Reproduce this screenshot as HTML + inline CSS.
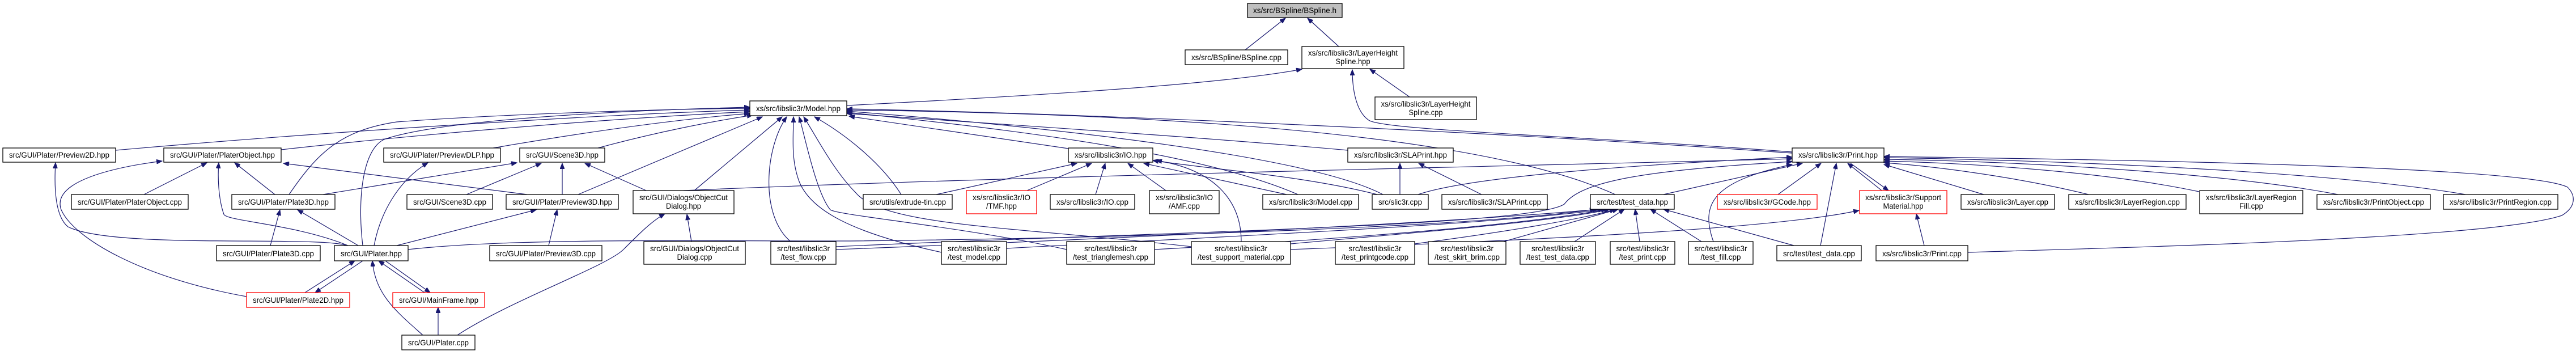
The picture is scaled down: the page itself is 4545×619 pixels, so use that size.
<!DOCTYPE html>
<html><head><meta charset="utf-8"><style>
html,body{margin:0;padding:0;background:#fff}
svg{display:block}
text{font-family:"Liberation Sans",sans-serif;font-size:14px;fill:#000}
.e{fill:none;stroke:#191970;stroke-width:1.2}
.b{fill:#fff;stroke:#000;stroke-width:1.3}
.r{fill:#fff;stroke:#ff0000;stroke-width:1.3}
</style></head><body>
<svg width="4545" height="619" viewBox="0 0 4545 619" xmlns="http://www.w3.org/2000/svg">
<defs><marker id="a" markerUnits="userSpaceOnUse" markerWidth="11" markerHeight="8" refX="10" refY="4" orient="auto"><path d="M0,0 L10,4 L0,8 z" fill="#191970" stroke="#191970"/></marker></defs>
<g class="e" marker-end="url(#a)">
<path d="M2197,88 L2268,32"/>
<path d="M2362,82 L2307,32"/>
<path d="M1494,186 C1800,170 2150,150 2297,122"/>
<path d="M2487,171 L2417,122"/>
<path d="M3162,268 C2800,240 2440,230 2415,212 C2390,195 2386,150 2386,123"/>
<path d="M204,265 C600,230 1100,200 1323,194"/>
<path d="M496,264 C800,230 1150,205 1323,197"/>
<path d="M870,261 C1050,230 1200,210 1323,200"/>
<path d="M1055,261 C1150,235 1250,215 1328,203"/>
<path d="M510,343 C560,270 600,230 700,215 C900,200 1200,192 1323,191"/>
<path d="M640,433 C630,350 640,260 680,245 C800,205 1200,192 1323,189"/>
<path d="M1020,343 L1345,206"/>
<path d="M1225,336 L1380,206"/>
<path d="M1395,426 C1340,380 1350,260 1388,206"/>
<path d="M1661,445 C1500,410 1430,370 1410,320 C1395,280 1400,240 1400,206"/>
<path d="M1882,440 C1700,400 1480,380 1465,370 C1440,340 1420,240 1410,206"/>
<path d="M2102,435 C1800,400 1560,400 1510,340 C1470,300 1440,240 1418,206"/>
<path d="M1590,343 C1550,280 1480,230 1437,206"/>
<path d="M1885,262 L1498,205"/>
<path d="M2378,265 C2100,240 1700,215 1494,200"/>
<path d="M2290,343 C2100,260 1700,220 1494,198"/>
<path d="M2440,343 C2300,270 1800,220 1494,196"/>
<path d="M2850,343 C2600,230 2000,200 1494,194"/>
<path d="M3162,270 C2600,230 1900,200 1494,192"/>
<path d="M1652,343 L1900,288"/>
<path d="M1812,336 L1926,288"/>
<path d="M1933,343 L1950,288"/>
<path d="M2057,336 L1990,288"/>
<path d="M2270,343 L2018,288"/>
<path d="M2430,343 C2300,310 2150,300 2034,283"/>
<path d="M2190,426 C2190,360 2150,300 2040,283"/>
<path d="M2470,343 L2470,288"/>
<path d="M2614,343 L2503,288"/>
<path d="M2502,343 C2600,310 2900,290 3162,277"/>
<path d="M2935,343 L3180,288"/>
<path d="M3137,343 L3213,288"/>
<path d="M3212,433 L3240,288"/>
<path d="M3320,336 L3260,288"/>
<path d="M3265,288 L3332,336"/>
<path d="M3023,426 C3000,360 3020,320 3162,290"/>
<path d="M1206,336 C1800,310 2800,290 3162,280"/>
<path d="M1475,435 C2000,410 2700,400 2760,360 C2790,320 2900,300 3162,285"/>
<path d="M3500,343 L3324,290"/>
<path d="M3685,343 C3550,310 3400,292 3324,287"/>
<path d="M3880,338 C3700,300 3450,287 3324,284"/>
<path d="M4125,343 C3900,300 3500,283 3324,281"/>
<path d="M4350,343 C4100,300 3600,282 3324,278"/>
<path d="M3472,445 C3800,435 4400,420 4520,380 C4545,365 4545,345 4530,330 C4450,290 3600,280 3324,276"/>
<path d="M3395,433 L3381,377"/>
<path d="M2277,440 C2800,420 3150,400 3280,371"/>
<path d="M1475,440 C2000,420 2600,390 2820,369"/>
<path d="M1776,438 C2200,415 2650,395 2830,369"/>
<path d="M2037,440 C2400,420 2700,395 2835,369"/>
<path d="M2277,430 C2500,410 2750,390 2840,369"/>
<path d="M2496,430 C2650,410 2800,385 2850,369"/>
<path d="M2653,426 L2855,369"/>
<path d="M2778,426 L2866,369"/>
<path d="M2893,426 L2885,369"/>
<path d="M3002,426 L2912,369"/>
<path d="M3165,433 L2935,369"/>
<path d="M720,440 C900,420 1200,425 1500,425 C2000,420 2600,400 2815,369"/>
<path d="M614,433 C520,395 400,390 395,378 C385,350 384,310 386,287"/>
<path d="M612,433 C560,415 200,440 120,400 C95,380 96,320 98,287"/>
<path d="M632,433 L525,370"/>
<path d="M660,433 C670,380 700,320 755,287"/>
<path d="M700,433 L946,370"/>
<path d="M254,343 L365,287"/>
<path d="M485,343 L414,287"/>
<path d="M930,343 L500,288"/>
<path d="M570,343 L912,287"/>
<path d="M823,343 L955,288"/>
<path d="M992,343 L992,288"/>
<path d="M1140,336 L1032,288"/>
<path d="M477,433 L494,370"/>
<path d="M968,433 L983,370"/>
<path d="M538,516 L626,460"/>
<path d="M640,460 L556,516"/>
<path d="M749,516 L668,460"/>
<path d="M680,460 L759,516"/>
<path d="M746,591 C700,550 662,520 657,460"/>
<path d="M773,591 L773,542"/>
<path d="M807,591 C900,530 1070,470 1100,440 C1130,410 1150,390 1173,377"/>
<path d="M435,523 C250,490 130,420 108,370 C90,320 200,295 286,284"/>
<path d="M1220,426 L1212,378"/>
</g>
<g>
<rect class="b" x="2201" y="6" width="167" height="25" style="fill:#bfbfbf"/><text x="2284.5" y="23" text-anchor="middle" textLength="147" lengthAdjust="spacingAndGlyphs">xs/src/BSpline/BSpline.h</text>
<rect class="b" x="2091" y="88" width="181" height="26"/><text x="2181.5" y="106" text-anchor="middle" textLength="159" lengthAdjust="spacingAndGlyphs">xs/src/BSpline/BSpline.cpp</text>
<rect class="b" x="2297" y="82" width="180" height="39"/><text x="2387" y="98" text-anchor="middle" textLength="158" lengthAdjust="spacingAndGlyphs">xs/src/libslic3r/LayerHeight</text><text x="2387" y="113" text-anchor="middle" textLength="61" lengthAdjust="spacingAndGlyphs">Spline.hpp</text>
<rect class="b" x="2426" y="171" width="179" height="40"/><text x="2515.5" y="188" text-anchor="middle" textLength="158" lengthAdjust="spacingAndGlyphs">xs/src/libslic3r/LayerHeight</text><text x="2515.5" y="203" text-anchor="middle" textLength="60" lengthAdjust="spacingAndGlyphs">Spline.cpp</text>
<rect class="b" x="1323" y="178" width="171" height="26"/><text x="1408.5" y="196" text-anchor="middle" textLength="149" lengthAdjust="spacingAndGlyphs">xs/src/libslic3r/Model.hpp</text>
<rect class="b" x="5" y="261" width="199" height="25"/><text x="104.5" y="278" text-anchor="middle" textLength="177" lengthAdjust="spacingAndGlyphs">src/GUI/Plater/Preview2D.hpp</text>
<rect class="b" x="289" y="261" width="207" height="25"/><text x="392.5" y="278" text-anchor="middle" textLength="185" lengthAdjust="spacingAndGlyphs">src/GUI/Plater/PlaterObject.hpp</text>
<rect class="b" x="677" y="261" width="206" height="25"/><text x="780" y="278" text-anchor="middle" textLength="184" lengthAdjust="spacingAndGlyphs">src/GUI/Plater/PreviewDLP.hpp</text>
<rect class="b" x="917" y="261" width="150" height="25"/><text x="992" y="278" text-anchor="middle" textLength="128" lengthAdjust="spacingAndGlyphs">src/GUI/Scene3D.hpp</text>
<rect class="b" x="1885" y="261" width="149" height="25"/><text x="1959.5" y="278" text-anchor="middle" textLength="127" lengthAdjust="spacingAndGlyphs">xs/src/libslic3r/IO.hpp</text>
<rect class="b" x="2378" y="261" width="186" height="25"/><text x="2471" y="278" text-anchor="middle" textLength="164" lengthAdjust="spacingAndGlyphs">xs/src/libslic3r/SLAPrint.hpp</text>
<rect class="b" x="3162" y="261" width="162" height="25"/><text x="3243" y="278" text-anchor="middle" textLength="140" lengthAdjust="spacingAndGlyphs">xs/src/libslic3r/Print.hpp</text>
<rect class="b" x="126" y="343" width="206" height="26"/><text x="229" y="361" text-anchor="middle" textLength="184" lengthAdjust="spacingAndGlyphs">src/GUI/Plater/PlaterObject.cpp</text>
<rect class="b" x="409" y="343" width="182" height="26"/><text x="500" y="361" text-anchor="middle" textLength="160" lengthAdjust="spacingAndGlyphs">src/GUI/Plater/Plate3D.hpp</text>
<rect class="b" x="718" y="343" width="151" height="26"/><text x="793.5" y="361" text-anchor="middle" textLength="129" lengthAdjust="spacingAndGlyphs">src/GUI/Scene3D.cpp</text>
<rect class="b" x="893" y="343" width="198" height="26"/><text x="992" y="361" text-anchor="middle" textLength="176" lengthAdjust="spacingAndGlyphs">src/GUI/Plater/Preview3D.hpp</text>
<rect class="b" x="1117" y="336" width="178" height="41"/><text x="1206" y="353" text-anchor="middle" textLength="156" lengthAdjust="spacingAndGlyphs">src/GUI/Dialogs/ObjectCut</text><text x="1206" y="368" text-anchor="middle" textLength="62" lengthAdjust="spacingAndGlyphs">Dialog.hpp</text>
<rect class="b" x="1523" y="343" width="157" height="26"/><text x="1601.5" y="361" text-anchor="middle" textLength="135" lengthAdjust="spacingAndGlyphs">src/utils/extrude-tin.cpp</text>
<rect class="r" x="1705" y="336" width="124" height="41"/><text x="1767" y="353" text-anchor="middle" textLength="102" lengthAdjust="spacingAndGlyphs">xs/src/libslic3r/IO</text><text x="1767" y="368" text-anchor="middle" textLength="54" lengthAdjust="spacingAndGlyphs">/TMF.hpp</text>
<rect class="b" x="1853" y="343" width="149" height="26"/><text x="1927.5" y="361" text-anchor="middle" textLength="127" lengthAdjust="spacingAndGlyphs">xs/src/libslic3r/IO.cpp</text>
<rect class="r" x="2028" y="336" width="123" height="41" style="stroke:#000"/><text x="2089.5" y="353" text-anchor="middle" textLength="101" lengthAdjust="spacingAndGlyphs">xs/src/libslic3r/IO</text><text x="2089.5" y="368" text-anchor="middle" textLength="55" lengthAdjust="spacingAndGlyphs">/AMF.cpp</text>
<rect class="b" x="2228" y="343" width="169" height="26"/><text x="2312.5" y="361" text-anchor="middle" textLength="147" lengthAdjust="spacingAndGlyphs">xs/src/libslic3r/Model.cpp</text>
<rect class="b" x="2421" y="343" width="99" height="26"/><text x="2470.5" y="361" text-anchor="middle" textLength="77" lengthAdjust="spacingAndGlyphs">src/slic3r.cpp</text>
<rect class="b" x="2544" y="343" width="186" height="26"/><text x="2637" y="361" text-anchor="middle" textLength="164" lengthAdjust="spacingAndGlyphs">xs/src/libslic3r/SLAPrint.cpp</text>
<rect class="b" x="2806" y="343" width="148" height="26"/><text x="2880" y="361" text-anchor="middle" textLength="126" lengthAdjust="spacingAndGlyphs">src/test/test_data.hpp</text>
<rect class="r" x="3030" y="343" width="176" height="26"/><text x="3118" y="361" text-anchor="middle" textLength="154" lengthAdjust="spacingAndGlyphs">xs/src/libslic3r/GCode.hpp</text>
<rect class="r" x="3281" y="336" width="154" height="41"/><text x="3358" y="353" text-anchor="middle" textLength="134" lengthAdjust="spacingAndGlyphs">xs/src/libslic3r/Support</text><text x="3358" y="368" text-anchor="middle" textLength="71" lengthAdjust="spacingAndGlyphs">Material.hpp</text>
<rect class="b" x="3460" y="343" width="165" height="26"/><text x="3542.5" y="361" text-anchor="middle" textLength="143" lengthAdjust="spacingAndGlyphs">xs/src/libslic3r/Layer.cpp</text>
<rect class="b" x="3650" y="343" width="207" height="26"/><text x="3753.5" y="361" text-anchor="middle" textLength="185" lengthAdjust="spacingAndGlyphs">xs/src/libslic3r/LayerRegion.cpp</text>
<rect class="b" x="3881" y="336" width="182" height="41"/><text x="3972" y="353" text-anchor="middle" textLength="160" lengthAdjust="spacingAndGlyphs">xs/src/libslic3r/LayerRegion</text><text x="3972" y="368" text-anchor="middle" textLength="42" lengthAdjust="spacingAndGlyphs">Fill.cpp</text>
<rect class="b" x="4088" y="343" width="200" height="26"/><text x="4188" y="361" text-anchor="middle" textLength="178" lengthAdjust="spacingAndGlyphs">xs/src/libslic3r/PrintObject.cpp</text>
<rect class="b" x="4311" y="343" width="202" height="26"/><text x="4412" y="361" text-anchor="middle" textLength="180" lengthAdjust="spacingAndGlyphs">xs/src/libslic3r/PrintRegion.cpp</text>
<rect class="b" x="382" y="433" width="183" height="27"/><text x="473.5" y="452" text-anchor="middle" textLength="161" lengthAdjust="spacingAndGlyphs">src/GUI/Plater/Plate3D.cpp</text>
<rect class="b" x="590" y="433" width="130" height="27"/><text x="655" y="452" text-anchor="middle" textLength="108" lengthAdjust="spacingAndGlyphs">src/GUI/Plater.hpp</text>
<rect class="b" x="864" y="433" width="198" height="27"/><text x="963" y="452" text-anchor="middle" textLength="176" lengthAdjust="spacingAndGlyphs">src/GUI/Plater/Preview3D.cpp</text>
<rect class="b" x="1136" y="426" width="179" height="40"/><text x="1225.5" y="443" text-anchor="middle" textLength="157" lengthAdjust="spacingAndGlyphs">src/GUI/Dialogs/ObjectCut</text><text x="1225.5" y="458" text-anchor="middle" textLength="62" lengthAdjust="spacingAndGlyphs">Dialog.cpp</text>
<rect class="b" x="1360" y="426" width="115" height="40"/><text x="1417.5" y="443" text-anchor="middle" textLength="93" lengthAdjust="spacingAndGlyphs">src/test/libslic3r</text><text x="1417.5" y="458" text-anchor="middle" textLength="80" lengthAdjust="spacingAndGlyphs">/test_flow.cpp</text>
<rect class="b" x="1661" y="426" width="115" height="40"/><text x="1718.5" y="443" text-anchor="middle" textLength="93" lengthAdjust="spacingAndGlyphs">src/test/libslic3r</text><text x="1718.5" y="458" text-anchor="middle" textLength="93" lengthAdjust="spacingAndGlyphs">/test_model.cpp</text>
<rect class="b" x="1882" y="426" width="155" height="40"/><text x="1959.5" y="443" text-anchor="middle" textLength="93" lengthAdjust="spacingAndGlyphs">src/test/libslic3r</text><text x="1959.5" y="458" text-anchor="middle" textLength="133" lengthAdjust="spacingAndGlyphs">/test_trianglemesh.cpp</text>
<rect class="b" x="2102" y="426" width="175" height="40"/><text x="2189.5" y="443" text-anchor="middle" textLength="93" lengthAdjust="spacingAndGlyphs">src/test/libslic3r</text><text x="2189.5" y="458" text-anchor="middle" textLength="153" lengthAdjust="spacingAndGlyphs">/test_support_material.cpp</text>
<rect class="b" x="2356" y="426" width="140" height="40"/><text x="2426" y="443" text-anchor="middle" textLength="93" lengthAdjust="spacingAndGlyphs">src/test/libslic3r</text><text x="2426" y="458" text-anchor="middle" textLength="118" lengthAdjust="spacingAndGlyphs">/test_printgcode.cpp</text>
<rect class="b" x="2520" y="426" width="137" height="40"/><text x="2588.5" y="443" text-anchor="middle" textLength="93" lengthAdjust="spacingAndGlyphs">src/test/libslic3r</text><text x="2588.5" y="458" text-anchor="middle" textLength="115" lengthAdjust="spacingAndGlyphs">/test_skirt_brim.cpp</text>
<rect class="b" x="2682" y="426" width="133" height="40"/><text x="2748.5" y="443" text-anchor="middle" textLength="93" lengthAdjust="spacingAndGlyphs">src/test/libslic3r</text><text x="2748.5" y="458" text-anchor="middle" textLength="111" lengthAdjust="spacingAndGlyphs">/test_test_data.cpp</text>
<rect class="b" x="2841" y="426" width="114" height="40"/><text x="2898" y="443" text-anchor="middle" textLength="93" lengthAdjust="spacingAndGlyphs">src/test/libslic3r</text><text x="2898" y="458" text-anchor="middle" textLength="83" lengthAdjust="spacingAndGlyphs">/test_print.cpp</text>
<rect class="b" x="2979" y="426" width="114" height="40"/><text x="3036" y="443" text-anchor="middle" textLength="93" lengthAdjust="spacingAndGlyphs">src/test/libslic3r</text><text x="3036" y="458" text-anchor="middle" textLength="71" lengthAdjust="spacingAndGlyphs">/test_fill.cpp</text>
<rect class="b" x="3135" y="433" width="149" height="27"/><text x="3209.5" y="452" text-anchor="middle" textLength="127" lengthAdjust="spacingAndGlyphs">src/test/test_data.cpp</text>
<rect class="b" x="3310" y="433" width="162" height="27"/><text x="3391" y="452" text-anchor="middle" textLength="140" lengthAdjust="spacingAndGlyphs">xs/src/libslic3r/Print.cpp</text>
<rect class="r" x="435" y="516" width="182" height="26"/><text x="526" y="534" text-anchor="middle" textLength="160" lengthAdjust="spacingAndGlyphs">src/GUI/Plater/Plate2D.hpp</text>
<rect class="r" x="693" y="516" width="162" height="26"/><text x="774" y="534" text-anchor="middle" textLength="140" lengthAdjust="spacingAndGlyphs">src/GUI/MainFrame.hpp</text>
<rect class="b" x="709" y="591" width="129" height="26"/><text x="773.5" y="609" text-anchor="middle" textLength="107" lengthAdjust="spacingAndGlyphs">src/GUI/Plater.cpp</text>
</g>
</svg>
</body></html>
